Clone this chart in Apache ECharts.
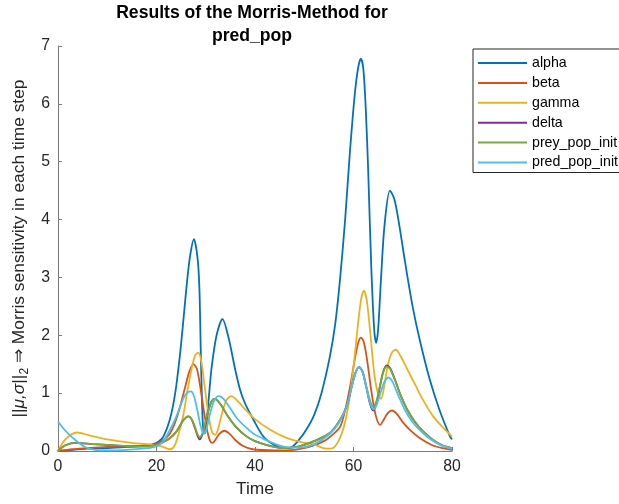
<!DOCTYPE html>
<html>
<head>
<meta charset="UTF-8">
<title>Morris-Method pred_pop</title>
<style>
  html, body { margin: 0; padding: 0; background: #fff; }
  #chart { width: 619px; height: 504px; }
</style>
<script src="https://cdn.jsdelivr.net/npm/echarts@6/dist/echarts.min.js"></script>
</head>
<body>
<div id="chart"></div>
<script>
// [time, sensitivity] pairs
var alpha = [[0,0],[3,0.02],[6,0.04],[10,0.05],[14,0.07],[17,0.09],[19.3,0.12],[20.5,0.17],[21.4,0.25],[22.7,0.54],[23.8,1.0],[24.8,1.69],[25.5,2.3],[26.1,2.84],[26.8,3.36],[27.6,3.66],[28.3,3.36],[28.7,2.84],[29.0,1.69],[29.3,0.7],[29.6,0.3],[29.9,0.32],[30.3,0.6],[30.7,1.0],[31.2,1.45],[32.2,2.0],[33.4,2.28],[34.6,1.97],[36,1.4],[37,1.05],[38,0.82],[39.7,0.54],[41.7,0.25],[44,0.1],[46,0.05],[47.5,0.07],[49,0.2],[50.5,0.38],[52,0.62],[53.5,1.0],[55.2,1.63],[56.3,2.2],[57.3,3.0],[58.3,4.0],[59.3,5.2],[60.3,6.2],[61,6.65],[61.5,6.78],[62,6.6],[62.5,5.9],[63,4.8],[63.6,3.2],[64.2,2.1],[64.6,1.87],[65,2.1],[65.6,3.0],[66.3,3.9],[67.4,4.5],[68.3,4.35],[69.3,3.9],[70.5,3.25],[72,2.5],[73.5,1.9],[75.5,1.23],[77.5,0.7],[79.6,0.25],[80,0.2]];
var beta = [[0,0],[3,0.03],[6,0.05],[10,0.07],[15,0.08],[18,0.09],[20,0.13],[21.5,0.2],[22.7,0.3],[23.8,0.5],[24.8,0.77],[25.8,1.1],[26.7,1.38],[27.5,1.5],[28.2,1.42],[28.9,1.1],[29.6,0.7],[30.3,0.35],[30.9,0.17],[31.4,0.14],[32,0.2],[32.8,0.3],[33.8,0.35],[34.8,0.3],[36,0.19],[37.5,0.09],[39.5,0.03],[44,0.01],[48,0.02],[51,0.07],[54,0.17],[56,0.3],[57.3,0.42],[58.3,0.7],[59.3,1.11],[60.4,1.65],[61.0,1.88],[61.5,1.96],[62.1,1.88],[62.8,1.55],[63.6,1.05],[64.5,0.62],[65.4,0.45],[66.2,0.55],[67,0.66],[67.8,0.7],[68.8,0.64],[70,0.5],[71.5,0.36],[73.5,0.22],[76,0.1],[78,0.05],[80,0.02]];
var gamma = [[0,0],[1.5,0.2],[3.8,0.32],[6,0.28],[10,0.2],[15,0.14],[19,0.11],[21,0.08],[22.7,0.03],[23.6,0.08],[24.5,0.3],[25.4,0.6],[26.3,1.05],[27.2,1.45],[27.9,1.66],[28.5,1.7],[29.1,1.55],[29.8,1.1],[30.6,0.6],[31.3,0.32],[31.9,0.28],[32.5,0.38],[33.3,0.65],[34.2,0.88],[35.2,0.95],[36.3,0.88],[38,0.72],[40,0.55],[43,0.37],[46,0.24],[49,0.16],[52,0.11],[54.5,0.04],[55.8,0.05],[57,0.18],[58,0.4],[59,0.8],[60,1.45],[60.8,2.1],[61.5,2.6],[62.1,2.77],[62.7,2.6],[63.4,2.05],[64.2,1.35],[65,0.98],[65.6,0.9],[66.2,1.1],[67,1.5],[67.8,1.7],[68.6,1.75],[69.5,1.65],[71,1.4],[72.5,1.15],[74,0.9],[76,0.62],[78,0.42],[80,0.25]];
var delta = [[0,0],[1.5,0.1],[3.8,0.14],[7,0.12],[11,0.1],[15,0.08],[18,0.08],[20,0.1],[21.5,0.16],[22.7,0.22],[24,0.33],[25.2,0.5],[26,0.58],[26.5,0.6],[27.1,0.55],[27.8,0.4],[28.4,0.25],[28.8,0.2],[29.3,0.28],[29.9,0.47],[30.6,0.72],[31.2,0.86],[31.7,0.9],[32.3,0.88],[33.2,0.78],[34.5,0.6],[36,0.43],[38,0.27],[40,0.17],[43,0.09],[46,0.05],[49,0.08],[52,0.17],[55.2,0.31],[57,0.5],[58.6,0.77],[59.6,1.1],[60.4,1.35],[61.1,1.45],[61.8,1.38],[62.6,1.1],[63.4,0.8],[64,0.7],[64.6,0.8],[65.3,1.08],[66,1.36],[66.7,1.48],[67.4,1.44],[68.3,1.26],[69.5,0.98],[71,0.7],[72.5,0.5],[74,0.35],[76,0.2],[78,0.1],[80,0.05]];
var preyPopInit = [[0,0],[1.5,0.1],[3.8,0.14],[7,0.12],[11,0.1],[15,0.08],[18,0.08],[20,0.1],[21.5,0.16],[22.7,0.22],[24,0.33],[25.2,0.5],[26,0.58],[26.5,0.6],[27.1,0.56],[27.8,0.42],[28.4,0.28],[28.8,0.24],[29.3,0.3],[29.9,0.48],[30.6,0.72],[31.2,0.86],[31.7,0.9],[32.3,0.88],[33.2,0.78],[34.5,0.6],[36,0.43],[38,0.27],[40,0.17],[43,0.09],[46,0.05],[49,0.08],[52,0.17],[55.2,0.31],[57,0.5],[58.6,0.77],[59.6,1.1],[60.4,1.35],[61.1,1.45],[61.8,1.38],[62.6,1.12],[63.4,0.86],[64,0.77],[64.6,0.85],[65.3,1.1],[66,1.35],[66.7,1.46],[67.4,1.42],[68.3,1.25],[69.5,0.98],[71,0.7],[72.5,0.5],[74,0.35],[76,0.2],[78,0.1],[80,0.05]];
var predPopInit = [[0,0.51],[1.5,0.35],[3.5,0.19],[5.5,0.07],[7.5,0.02],[10,0.01],[14,0.02],[17,0.04],[19,0.06],[20.5,0.1],[21.6,0.2],[22.7,0.36],[23.8,0.55],[24.8,0.77],[25.7,0.95],[26.4,1.02],[27,1.03],[27.6,0.95],[28.3,0.7],[29,0.42],[29.6,0.3],[30.2,0.4],[30.9,0.65],[31.6,0.85],[32.3,0.94],[32.8,0.95],[33.6,0.9],[34.8,0.76],[36.2,0.58],[38,0.42],[39.7,0.3],[41.5,0.22],[43,0.16],[46,0.07],[49,0.06],[52,0.12],[55,0.28],[57,0.48],[58.6,0.77],[59.6,1.1],[60.4,1.35],[61.1,1.46],[61.8,1.38],[62.6,1.1],[63.4,0.82],[64,0.72],[64.6,0.78],[65.4,0.98],[66.2,1.18],[67.1,1.27],[67.9,1.2],[69,0.98],[70.5,0.7],[72,0.5],[74,0.32],[76,0.18],[78,0.09],[80,0.04]];

var names = ['alpha', 'beta', 'gamma', 'delta', 'prey_pop_init', 'pred_pop_init'];
var values = [alpha, beta, gamma, delta, preyPopInit, predPopInit];
var colors = ['#0072BD', '#D95319', '#EDB120', '#7E2F8E', '#77AC30', '#4DBEEE'];

var font = 'Liberation Sans, Arial, sans-serif';
var chart = echarts.init(document.getElementById('chart'));

var series = names.map(function (n, i) {
  return {
    name: n,
    type: 'line',
    data: values[i],
    smooth: 0.3,
    showSymbol: false,
    symbol: 'none',
    lineStyle: { color: colors[i], width: 1.8 },
    itemStyle: { color: colors[i] }
  };
});

chart.setOption({
  animation: false,
  title: {
    text: 'Results of the Morris-Method for\npred_pop',
    left: 252,
    top: 1,
    padding: 0,
    textAlign: 'center',
    textStyle: { fontFamily: font, fontSize: 17.6, fontWeight: 'bold', color: '#000', lineHeight: 23.5 }
  },
  legend: {
    orient: 'vertical',
    left: 473,
    top: 49,
    padding: [7, 3, 3, 5],
    itemGap: 5.9,
    itemWidth: 49,
    itemHeight: 2,
    icon: 'rect',
    borderColor: '#262626',
    borderWidth: 1,
    textStyle: { fontFamily: font, fontSize: 14.2, color: '#000' },
    data: names
  },
  grid: { left: 58, right: 167, top: 46, bottom: 53, containLabel: false },
  xAxis: {
    type: 'value',
    min: 0, max: 80, interval: 20,
    name: 'Time',
    nameLocation: 'middle',
    nameGap: 30,
    nameTextStyle: { fontFamily: font, fontSize: 17.4, color: '#262626' },
    axisLine: { lineStyle: { color: '#7a7a7a', width: 1 } },
    axisTick: { inside: true, length: 4, lineStyle: { color: '#7a7a7a' } },
    axisLabel: { fontFamily: font, fontSize: 15.8, color: '#262626', margin: 8 },
    splitLine: { show: false }
  },
  yAxis: {
    type: 'value',
    min: 0, max: 7, interval: 1,
    name: '||{i|μ,σ}||{sub|2} ⇒ Morris sensitivity in each time step',
    nameLocation: 'middle',
    nameRotate: 90,
    nameGap: 27,
    nameTextStyle: {
      fontFamily: font, fontSize: 17.4, color: '#262626',
      rich: {
        i: { fontFamily: font, fontSize: 17.4, fontStyle: 'italic', color: '#262626' },
        sub: { fontFamily: font, fontSize: 12, color: '#262626', padding: [10, 0, 0, 0] }
      }
    },
    axisLine: { show: true, lineStyle: { color: '#7a7a7a', width: 1 } },
    axisTick: { show: true, inside: true, length: 4, lineStyle: { color: '#7a7a7a' } },
    axisLabel: { fontFamily: font, fontSize: 15.8, color: '#262626', margin: 8 },
    splitLine: { show: false }
  },
  series: series
});
</script>
</body>
</html>
